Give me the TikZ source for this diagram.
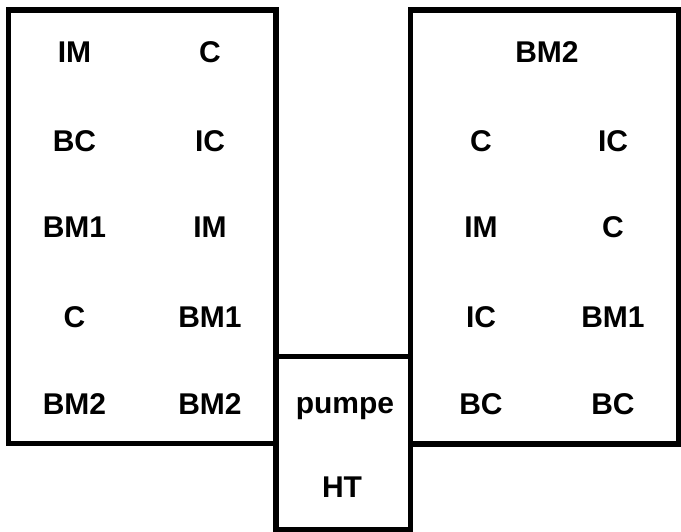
\documentclass[tikz,border=0pt]{standalone}
\usepackage{fontspec}
\setmainfont{Liberation Sans}
\begin{document}
\begin{tikzpicture}[x=1pt,y=-1pt,
  box/.style={draw=black,line width=5.5pt,rectangle,inner sep=0pt,outer sep=0pt},
  lbl/.style={anchor=base,inner sep=0pt,font=\fontsize{30}{36}\selectfont\bfseries}]
\useasboundingbox (0,0) rectangle (681,532);
\node[box,minimum width=267.5pt,minimum height=433.5pt] (L) at (142.25,226.75) {};
\node[box,minimum width=134.5pt,minimum height=173pt] (M) at (343.25,443) {};
\node[box,minimum width=268.5pt,minimum height=434pt] (R) at (544.75,227) {};
% left box
\node[lbl] (l11) at (74.5,63) {IM};
\node[lbl] (l12) at (210,63) {C};
\node[lbl] (l21) at (74.5,152) {BC};
\node[lbl] (l22) at (210,152) {IC};
\node[lbl] (l31) at (74.5,238) {BM1};
\node[lbl] (l32) at (210,238) {IM};
\node[lbl] (l41) at (74.5,327) {C};
\node[lbl] (l42) at (210,327) {BM1};
\node[lbl] (l51) at (74.5,414) {BM2};
\node[lbl] (l52) at (210,414) {BM2};
% middle
\node[lbl] (m1) at (345,413) {pumpe};
\node[lbl] (m2) at (342,497) {HT};
% right box
\node[lbl] (r1) at (547,63) {BM2};
\node[lbl] (r21) at (481,152) {C};
\node[lbl] (r22) at (613,152) {IC};
\node[lbl] (r31) at (481,238) {IM};
\node[lbl] (r32) at (613,238) {C};
\node[lbl] (r41) at (481,327) {IC};
\node[lbl] (r42) at (613,327) {BM1};
\node[lbl] (r51) at (481,414) {BC};
\node[lbl] (r52) at (613,414) {BC};
\end{tikzpicture}
\end{document}
